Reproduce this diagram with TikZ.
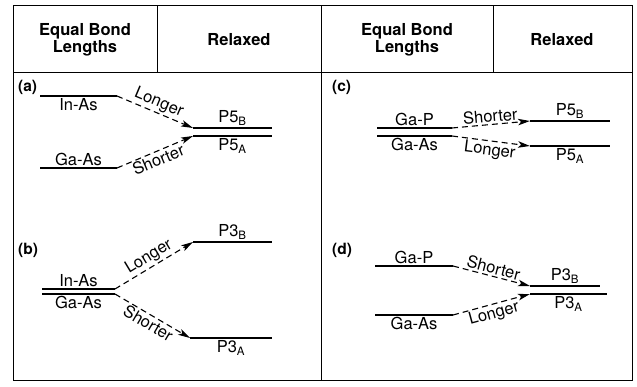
\documentclass[tikz,border=0pt]{standalone}
\usepackage{fontspec}
\setmainfont{TeX Gyre Heros}
\usetikzlibrary{arrows.meta}

\begin{document}
\begin{tikzpicture}[x=1pt,y=-1pt,>={Stealth[length=12pt,width=6.5pt,inset=3pt]},
  frame/.style={line width=1pt},
  level/.style={line width=2.2pt},
  bondshift/.style={->,line width=1.1pt,dash pattern=on 6pt off 4pt},
  head/.style={font=\fontsize{16.5}{17}\selectfont\bfseries,align=center},
  lbl/.style={font=\fontsize{16.5}{17}\selectfont,inner sep=1.5pt},
  tag/.style={font=\fontsize{15.5}{17}\selectfont\bfseries,anchor=north west,inner sep=0pt}]
\useasboundingbox (0,0) rectangle (637,387);
% table frame
\draw[frame] (13,6) rectangle (632,380);
\draw[frame] (13,73) -- (632,73);
\draw[frame] (321,6) -- (321,380);
\draw[frame] (157,6) -- (157,73);
\draw[frame] (493,6) -- (493,73);
\node[head] (hEqL) at (85,40) {Equal Bond\\Lengths};
\node[head] (hRelL) at (239,40) {Relaxed};
\node[head] (hEqR) at (407,40) {Equal Bond\\Lengths};
\node[head] (hRelR) at (562,40) {Relaxed};

% (a)
\node[tag] (tagA) at (18,80) {(a)};
\draw[level] (40,96) coordinate (aInL) -- node[lbl,below] (aInT) {In-As} (117,96) coordinate (aInR);
\draw[level] (40,168) coordinate (aGaL) -- node[lbl,above] (aGaT) {Ga-As} (117,168) coordinate (aGaR);
\draw[level] (193,128) coordinate (aP5BL) -- node[lbl,above] (aP5BT) {P5\textsubscript{B}} (272,128) coordinate (aP5BR);
\draw[level] (193,136) coordinate (aP5AL) -- node[lbl,below] (aP5AT) {P5\textsubscript{A}} (272,136) coordinate (aP5AR);
\draw[bondshift] (aInR) -- node[lbl,above,sloped] (aLong) {Longer} (aP5BL);
\draw[bondshift] (aGaR) -- node[lbl,below,sloped] (aShort) {Shorter} (aP5AL);

% (b)
\node[tag] (tagB) at (18,243) {(b)};
\draw[level] (42,289) coordinate (bInL) -- node[lbl,above] (bInT) {In-As} (115,289) coordinate (bInR);
\draw[level] (42,294) coordinate (bGaL) -- node[lbl,below] (bGaT) {Ga-As} (115,294) coordinate (bGaR);
\draw[level] (193,242) coordinate (bP3BL) -- node[lbl,above] (bP3BT) {P3\textsubscript{B}} (272,242) coordinate (bP3BR);
\draw[level] (190,338) coordinate (bP3AL) -- node[lbl,below] (bP3AT) {P3\textsubscript{A}} (272,338) coordinate (bP3AR);
\draw[bondshift] (bInR) -- node[lbl,above,sloped] (bLong) {Longer} (bP3BL);
\draw[bondshift] (bGaR) -- node[lbl,below,sloped] (bShort) {Shorter} (bP3AL);

% (c)
\node[tag] (tagC) at (332,80) {(c)};
\draw[level] (377,128) coordinate (cGaPL) -- node[lbl,above] (cGaPT) {Ga-P} (452,128) coordinate (cGaPR);
\draw[level] (377,136) coordinate (cGaAsL) -- node[lbl,below] (cGaAsT) {Ga-As} (452,136) coordinate (cGaAsR);
\draw[level] (530,121) coordinate (cP5BL) -- node[lbl,above] (cP5BT) {P5\textsubscript{B}} (610,121) coordinate (cP5BR);
\draw[level] (530,146) coordinate (cP5AL) -- node[lbl,below] (cP5AT) {P5\textsubscript{A}} (610,146) coordinate (cP5AR);
\draw[bondshift] (cGaPR) -- node[lbl,above,sloped] (cShort) {Shorter} (cP5BL);
\draw[bondshift] (cGaAsR) -- node[lbl,below,sloped] (cLong) {Longer} (cP5AL);

% (d)
\node[tag] (tagD) at (332,243) {(d)};
\draw[level] (375,266) coordinate (dGaPL) -- node[lbl,above] (dGaPT) {Ga-P} (453,266) coordinate (dGaPR);
\draw[level] (375,315) coordinate (dGaAsL) -- node[lbl,below] (dGaAsT) {Ga-As} (453,315) coordinate (dGaAsR);
\draw[level] (530,286) coordinate (dP3BL) -- node[lbl,above] (dP3BT) {P3\textsubscript{B}} (600,286) coordinate (dP3BR);
\draw[level] (530,294) coordinate (dP3AL) -- node[lbl,below] (dP3AT) {P3\textsubscript{A}} (607,294) coordinate (dP3AR);
\draw[bondshift] (dGaPR) -- node[lbl,above,sloped] (dShort) {Shorter} (dP3BL);
\draw[bondshift] (dGaAsR) -- node[lbl,below,sloped] (dLong) {Longer} (dP3AL);
\end{tikzpicture}
\end{document}
